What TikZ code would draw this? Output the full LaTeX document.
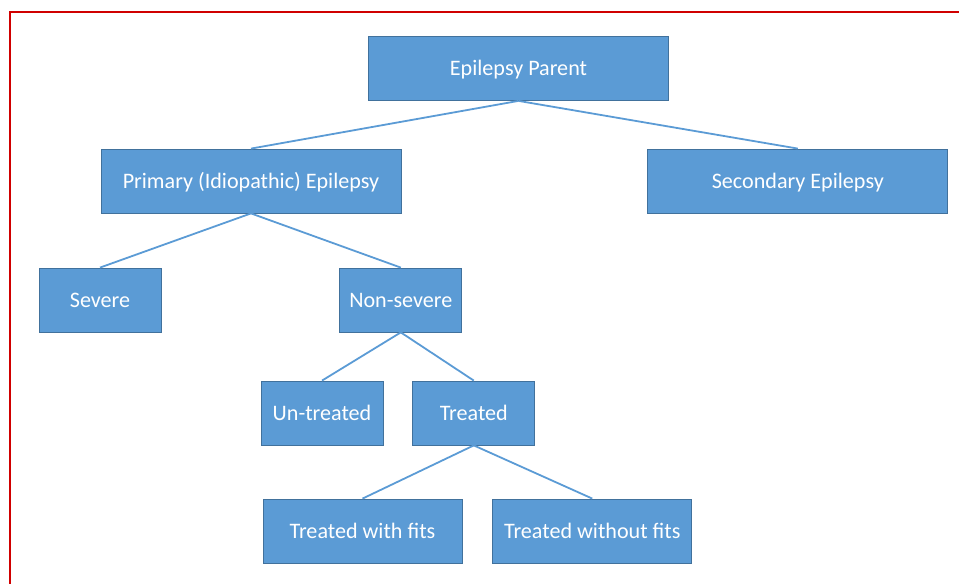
\documentclass[tikz,border=0pt]{standalone}
\usepackage{fontspec}
\setmainfont{Carlito}
\usetikzlibrary{positioning}

\definecolor{boxfill}{HTML}{5B9BD5}
\definecolor{boxedge}{HTML}{41719C}
\definecolor{linkblue}{HTML}{5B9BD5}
\definecolor{frame}{HTML}{D00000}

\begin{document}
\begin{tikzpicture}[
    x=1bp, y=-1bp,
    node distance=30bp and 30bp,
    box/.style={draw=boxedge, line width=0.8bp, fill=boxfill, text=white,
      minimum height=64bp, inner sep=0pt, text height=19bp, text depth=4.5bp,
      font=\fontsize{22.2}{26}\selectfont},
    wide/.style={box, minimum width=300bp},
    small/.style={box, minimum width=122bp},
    mid/.style={box, minimum width=199bp},
    link/.style={draw=linkblue, line width=1.8bp}
]
  \useasboundingbox (0,0) rectangle (959,584);
  % red frame, only top and left edges visible
  \draw[frame, line width=2.5bp] (959,12) -- (10,12) -- (10,584);

  \node[wide] (parent) at (518.5,68.5) {Epilepsy Parent};
  \node[wide] (primary) at (251,181) {Primary (Idiopathic) Epilepsy};
  \node[wide, right=246bp of primary] (secondary) {Secondary Epilepsy};

  \node[small] (severe) at (100,300) {Severe};
  \node[small, right=178bp of severe] (nonsevere) {Non-severe};

  \node[small] (untreated) at (322,413) {Un-treated};
  \node[small, right=29bp of untreated] (treated) {Treated};

  \node[mid] (withfits) at (362.5,531) {Treated with fits};
  \node[mid, right=30bp of withfits] (withoutfits) {Treated without fits};

  \draw[link] (parent.south) -- (primary.north);
  \draw[link] (parent.south) -- (secondary.north);
  \draw[link] (primary.south) -- (severe.north);
  \draw[link] (primary.south) -- (nonsevere.north);
  \draw[link] (nonsevere.south) -- (untreated.north);
  \draw[link] (nonsevere.south) -- (treated.north);
  \draw[link] (treated.south) -- (withfits.north);
  \draw[link] (treated.south) -- (withoutfits.north);
\end{tikzpicture}
\end{document}
